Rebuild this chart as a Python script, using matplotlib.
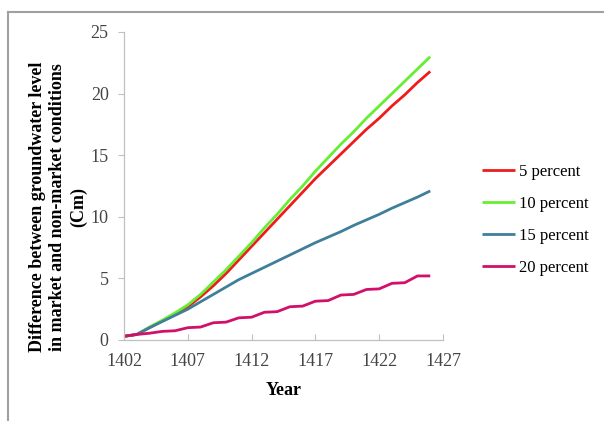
import matplotlib
matplotlib.use("Agg")
import matplotlib.pyplot as plt
from matplotlib.lines import Line2D

years = list(range(1402, 1427))
p5 = [0.3, 0.45, 1.0, 1.55, 2.1, 2.7, 3.5, 4.4, 5.4, 6.5, 7.6, 8.7, 9.8, 10.9,
      12.0, 13.1, 14.1, 15.1, 16.1, 17.1, 18.0, 19.0, 19.9, 20.9, 21.8]
p10 = [0.3, 0.45, 1.05, 1.6, 2.2, 2.85, 3.7, 4.7, 5.7, 6.8, 7.9, 9.1, 10.2, 11.4,
       12.5, 13.7, 14.8, 15.9, 16.9, 18.0, 19.0, 20.0, 21.0, 22.0, 23.0]
p15 = [0.3, 0.45, 1.0, 1.5, 2.0, 2.5, 3.1, 3.7, 4.3, 4.9, 5.4, 5.9, 6.4, 6.9,
       7.4, 7.9, 8.35, 8.8, 9.3, 9.75, 10.2, 10.7, 11.15, 11.6, 12.1]
p20 = [0.3, 0.45, 0.55, 0.7, 0.75, 1.0, 1.05, 1.4, 1.45, 1.8, 1.85, 2.25, 2.3, 2.7,
       2.75, 3.15, 3.2, 3.65, 3.7, 4.1, 4.15, 4.6, 4.65, 5.2, 5.2]
labels = ["5 percent", "10 percent", "15 percent", "20 percent"]
colors = ["#ee1c1c", "#66ee33", "#3f7f99", "#d0106a"]
xticks = [1402, 1407, 1412, 1417, 1422, 1427]
yticks = [0, 5, 10, 15, 20, 25]

plt.rcParams['font.family'] = ['Liberation Serif', 'DejaVu Serif']

fig = plt.figure(figsize=(6.04, 4.21), dpi=100)
ax = fig.add_axes([124/604, 1-340/421, (443-124)/604, (340-32)/421])

for ys, c, lab in zip([p5, p10, p15, p20], colors, labels):
    ax.plot(years, ys, color=c, lw=2.0, label=lab, solid_capstyle='butt')

ax.set_xlim(1402, 1427)
ax.set_ylim(0, 25)
ax.set_xticks(xticks)
ax.set_yticks(yticks)
for s in ['top', 'right']:
    ax.spines[s].set_visible(False)
for s in ['left', 'bottom']:
    ax.spines[s].set_color('#c0c0c0')
    ax.spines[s].set_linewidth(0.9)
ax.tick_params(axis='x', direction='in', length=4, color='#c0c0c0',
               labelsize=13, labelcolor='#444444', pad=9)
ax.tick_params(axis='y', direction='out', length=4, color='#c0c0c0',
               labelsize=13, labelcolor='#444444', pad=7)

ax.set_xlabel("Year", fontsize=13, fontweight='bold', labelpad=9)
fig.text(58/604, 1-207/421,
         "Difference between groundwater level\nin market and non-market conditions\n(Cm)",
         rotation=90, ha='center', va='center', fontsize=13, fontweight='bold',
         linespacing=1.25)

leg = ax.legend(loc='center left', bbox_to_anchor=(1.075, 0.39), frameon=False,
                fontsize=12, handlelength=2.0, handletextpad=0.25,
                labelspacing=0.95)

# outer frame
fig.add_artist(Line2D([8/604, 8/604], [0, 1-12/421], color='#a0a0a0', lw=1.5,
                      transform=fig.transFigure))
fig.add_artist(Line2D([8/604, 1], [1-12/421, 1-12/421], color='#a0a0a0', lw=1.5,
                      transform=fig.transFigure))

fig.savefig("out.png", dpi=100, facecolor='white')
